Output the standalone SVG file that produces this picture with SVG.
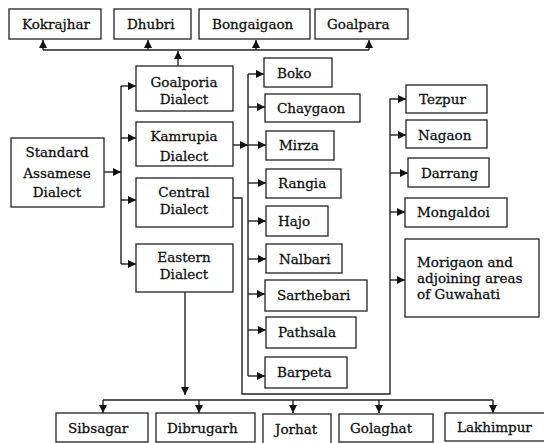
<svg xmlns="http://www.w3.org/2000/svg" width="544" height="443" viewBox="0 0 544 443">
<defs>
<marker id="ah" markerUnits="userSpaceOnUse" markerWidth="9" markerHeight="8" refX="8" refY="4" orient="auto">
<path d="M0,0 L8,4 L0,8 z" fill="#111"/>
</marker>
<style>
rect{fill:#fff;stroke:#222;stroke-width:1.3}
text{font-family:'DejaVu Serif','Liberation Serif',serif;font-size:13.5px;fill:#111;stroke:#111;stroke-width:0.3}
.c{text-anchor:middle}
#connectors path{fill:none;stroke:#222;stroke-width:1.4}
.a{marker-end:url(#ah)}
</style>
</defs>
<rect x="0" y="0" width="544" height="443" style="fill:#fff;stroke:none"/>
<g id="connectors">
<path d="M43,50 H369"/>
<path class="a" d="M43,50 V40"/>
<path class="a" d="M148,50 V40"/>
<path class="a" d="M256,50 V40"/>
<path class="a" d="M369,50 V40"/>
<path class="a" d="M178,66 V51"/>
<path d="M121,86 V264"/>
<path class="a" d="M104,172 H121"/>
<path class="a" d="M121,86 H136"/>
<path class="a" d="M121,138 H136"/>
<path class="a" d="M121,200 H136"/>
<path class="a" d="M121,264 H136"/>
<path class="a" d="M233,145 H248"/>
<path d="M248,74 V376"/>
<path class="a" d="M248,74 H264"/>
<path class="a" d="M248,107 H265"/>
<path class="a" d="M248,145 H266"/>
<path class="a" d="M248,183 H266"/>
<path class="a" d="M248,221 H266"/>
<path class="a" d="M248,259 H266"/>
<path class="a" d="M248,294 H265"/>
<path class="a" d="M248,330 H266"/>
<path class="a" d="M248,376 H265"/>
<path class="a" d="M233,198 H242 V394 H390 V99 H406"/>
<path class="a" d="M390,135 H406"/>
<path class="a" d="M390,173 H408"/>
<path class="a" d="M390,212 H405"/>
<path class="a" d="M390,280 H405"/>
<path class="a" d="M185,292 V395"/>
<path d="M103,400 H493"/>
<path class="a" d="M103,400 V413"/>
<path class="a" d="M199,400 V413"/>
<path class="a" d="M293,400 V413"/>
<path class="a" d="M379,400 V413"/>
<path class="a" d="M493,400 V413"/>
</g>
<g id="kokrajhar"><rect x="9" y="9" width="92" height="30"/><text x="22" y="29">Kokrajhar</text></g>
<g id="dhubri"><rect x="114" y="9" width="77" height="30"/><text x="127" y="29">Dhubri</text></g>
<g id="bongaigaon"><rect x="199" y="9" width="111" height="30"/><text x="212" y="29">Bongaigaon</text></g>
<g id="goalpara"><rect x="315" y="9" width="93" height="30"/><text x="327" y="29">Goalpara</text></g>
<g id="standard"><rect x="11" y="138" width="93" height="69"/><text class="c" x="57" y="157">Standard</text><text class="c" x="57" y="178">Assamese</text><text class="c" x="57" y="197">Dialect</text></g>
<g id="goalporia"><rect x="136" y="66" width="97" height="45"/><text class="c" x="184" y="87">Goalporia</text><text class="c" x="184" y="104">Dialect</text></g>
<g id="kamrupia"><rect x="136" y="122" width="97" height="44"/><text class="c" x="184" y="141">Kamrupia</text><text class="c" x="184" y="161">Dialect</text></g>
<g id="central"><rect x="136" y="178" width="97" height="49"/><text class="c" x="184" y="197">Central</text><text class="c" x="184" y="214">Dialect</text></g>
<g id="eastern"><rect x="136" y="244" width="97" height="48"/><text class="c" x="184" y="262">Eastern</text><text class="c" x="184" y="279">Dialect</text></g>
<g id="boko"><rect x="264" y="58" width="68" height="29"/><text x="277" y="78">Boko</text></g>
<g id="chaygaon"><rect x="265" y="94" width="95" height="28"/><text x="277" y="113">Chaygaon</text></g>
<g id="mirza"><rect x="266" y="131" width="68" height="29"/><text x="279" y="150">Mirza</text></g>
<g id="rangia"><rect x="266" y="169" width="75" height="29"/><text x="278" y="188">Rangia</text></g>
<g id="hajo"><rect x="266" y="206" width="62" height="30"/><text x="278" y="226">Hajo</text></g>
<g id="nalbari"><rect x="266" y="244" width="76" height="29"/><text x="279" y="264">Nalbari</text></g>
<g id="sarthebari"><rect x="265" y="280" width="102" height="31"/><text x="277" y="300">Sarthebari</text></g>
<g id="pathsala"><rect x="266" y="317" width="90" height="31"/><text x="278" y="337">Pathsala</text></g>
<g id="barpeta"><rect x="265" y="357" width="82" height="31"/><text x="277" y="377">Barpeta</text></g>
<g id="tezpur"><rect x="406" y="85" width="81" height="28"/><text x="419" y="104">Tezpur</text></g>
<g id="nagaon"><rect x="406" y="120" width="81" height="28"/><text x="418" y="140">Nagaon</text></g>
<g id="darrang"><rect x="408" y="158" width="81" height="29"/><text x="421" y="178">Darrang</text></g>
<g id="mongaldoi"><rect x="405" y="198" width="102" height="29"/><text x="417" y="217">Mongaldoi</text></g>
<g id="morigaon"><rect x="405" y="239" width="134" height="78"/><text x="417" y="267">Morigaon and</text><text x="417" y="283">adjoining areas</text><text x="417" y="299">of Guwahati</text></g>
<g id="sibsagar"><rect x="56" y="413" width="92" height="29"/><text x="68" y="433">Sibsagar</text></g>
<g id="dibrugarh"><rect x="156" y="413" width="99" height="29"/><text x="167" y="433">Dibrugarh</text></g>
<g id="jorhat"><rect x="263" y="414" width="68" height="32"/><text x="275" y="434">Jorhat</text></g>
<g id="golaghat"><rect x="339" y="414" width="94" height="28"/><text x="350" y="433">Golaghat</text></g>
<g id="lakhimpur"><rect x="445" y="413" width="102" height="28"/><text x="457" y="432">Lakhimpur</text></g>
</svg>
